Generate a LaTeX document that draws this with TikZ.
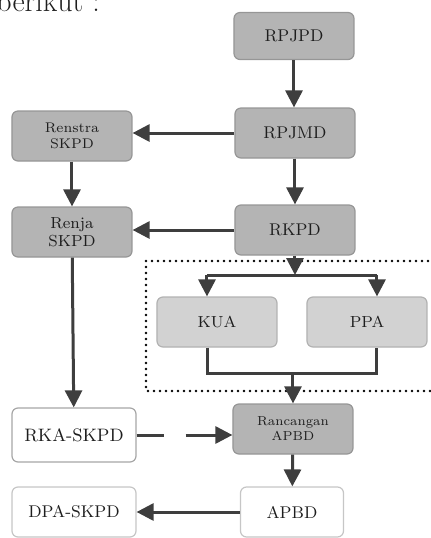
\documentclass[tikz,border=0pt]{standalone}
\usepackage{tikz}
\usetikzlibrary{arrows.meta,positioning,calc}
\definecolor{boxgray}{RGB}{180,180,180}
\definecolor{palegray}{RGB}{210,210,210}
\definecolor{edgegray}{RGB}{150,150,150}
\definecolor{arrowgray}{RGB}{62,62,62}
\definecolor{inkgray}{RGB}{30,30,30}

\begin{document}
\begin{tikzpicture}[x=0.5pt,y=-0.5pt,
  box/.style={draw=edgegray,fill=boxgray,rounded corners=3pt,line width=0.6pt,
    minimum width=60pt,minimum height=25pt,align=center,text=inkgray,
    font=\fontsize{8.5}{9.5}\selectfont},
  palebox/.style={box,fill=palegray,draw=palegray!85!black},
  whitebox/.style={box,fill=white,draw=gray!70,minimum width=62pt},
  arr/.style={-{Triangle[width=8.5pt,length=8.5pt]},line width=1.5pt,draw=arrowgray},
  joint/.style={line width=1.5pt,draw=arrowgray},
  frame/.style={line width=1.3pt,dash pattern=on 0pt off 3pt,line cap=round}
]
\useasboundingbox (0,0) rectangle (431,538);
\node[anchor=base west,inner sep=0pt,font=\fontsize{15}{17}\selectfont,text=inkgray] (intro) at (-4,11) {berikut :};
% dotted frame round KUA and PPA
\draw[frame] (146,261) rectangle (445,391);
% nodes
\node[box,minimum height=23.5pt] (rpjpd) at (294,36) {RPJPD};
\node[box] (rpjmd) at (295,133) {RPJMD};
\node[box,font=\fontsize{7}{8}\selectfont] (renstra) at (72,136) {Renstra\\SKPD};
\node[box,font=\fontsize{8}{9}\selectfont] (renja) at (72,232) {Renja\\SKPD};
\node[box] (rkpd) at (295,230) {RKPD};
\node[palebox,font=\fontsize{8}{9}\selectfont] (kua) at (217,322) {KUA};
\node[palebox,font=\fontsize{8}{9}\selectfont] (ppa) at (367,322) {PPA};
\node[box,font=\fontsize{6.5}{7.5}\selectfont] (rancangan) at (293,429) {Rancangan\\APBD};
\node[whitebox,minimum height=27pt,font=\fontsize{9}{10}\selectfont] (rka) at (74,435) {RKA-SKPD};
\node[whitebox,minimum width=51.5pt,draw=gray!45] (apbd) at (292,512) {APBD};
\node[whitebox,draw=gray!45] (dpa) at (74,512) {DPA-SKPD};
% connectors
\coordinate (split) at (293,275);
\coordinate (merge) at (293,373);
\draw[arr] (rpjpd.south) -- (rpjpd.south |- rpjmd.north);
\draw[arr] (rpjmd.west) -- (renstra.east |- rpjmd.west);
\draw[arr] (rpjmd.south) -- (rpjmd.south |- rkpd.north);
\draw[arr] (renstra) -- (renja);
\draw[arr] (rkpd.west) -- (renja.east |- rkpd.west);
\draw[arr] (renja) -- (rka);
\draw[arr] (rkpd.south) -- (rkpd.south |- split);
\draw[joint] ([xshift=-5pt]kua.north |- split) -- ([xshift=5pt]ppa.north |- split);
\draw[arr] ([xshift=-5pt]kua.north |- split) -- ([xshift=-5pt]kua.north);
\draw[arr] ([xshift=5pt]ppa.north |- split) -- ([xshift=5pt]ppa.north);
\draw[joint] ([xshift=-4.5pt]kua.south) |- (merge) -| ([xshift=5pt]ppa.south);
\draw[arr] (merge) -- (rancangan);
\draw[arr,dash pattern=on 13.5pt off 11pt on 40pt] (rka.east) -- (rancangan.west |- rka.east);
\draw[arr] (rancangan) -- (apbd);
\draw[arr] (apbd) -- (dpa);
\end{tikzpicture}
\end{document}
